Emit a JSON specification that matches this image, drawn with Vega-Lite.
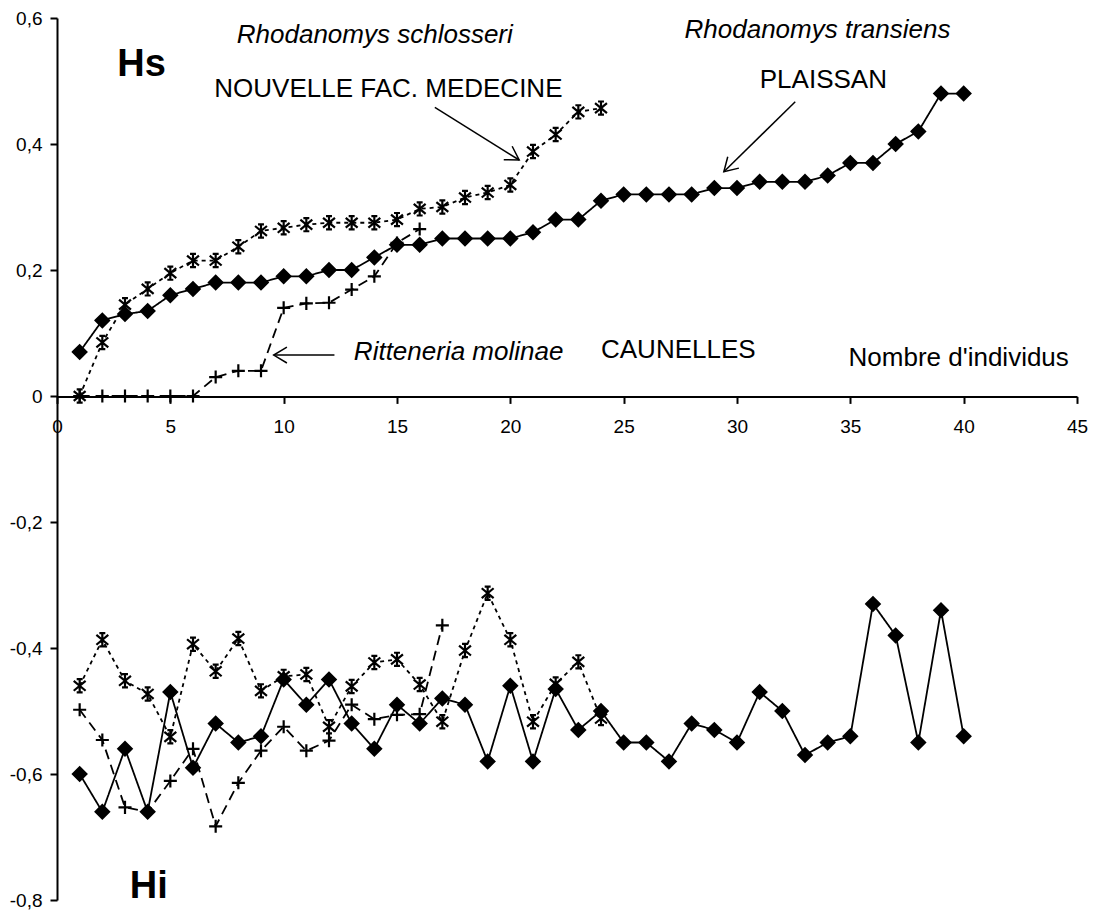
{
  "$schema": "https://vega.github.io/schema/vega-lite/v6.json",
  "width": 1020,
  "height": 882,
  "autosize": "none",
  "padding": {"left": 57, "top": 18, "right": 20, "bottom": 10},
  "background": "white",
  "config": {
    "view": {"stroke": null},
    "font": "Liberation Sans",
    "axis": {"labelFont": "Liberation Sans", "labelColor": "black", "domainColor": "black", "tickColor": "black", "grid": false, "title": null}
  },
  "datasets": {
    "series": [
      {"s":"T","h":"Hs","x":1,"y":0.07},{"s":"T","h":"Hs","x":2,"y":0.12},{"s":"T","h":"Hs","x":3,"y":0.13},{"s":"T","h":"Hs","x":4,"y":0.135},{"s":"T","h":"Hs","x":5,"y":0.16},{"s":"T","h":"Hs","x":6,"y":0.17},{"s":"T","h":"Hs","x":7,"y":0.18},{"s":"T","h":"Hs","x":8,"y":0.18},{"s":"T","h":"Hs","x":9,"y":0.18},{"s":"T","h":"Hs","x":10,"y":0.19},
      {"s":"T","h":"Hs","x":11,"y":0.19},{"s":"T","h":"Hs","x":12,"y":0.2},{"s":"T","h":"Hs","x":13,"y":0.2},{"s":"T","h":"Hs","x":14,"y":0.22},{"s":"T","h":"Hs","x":15,"y":0.24},{"s":"T","h":"Hs","x":16,"y":0.24},{"s":"T","h":"Hs","x":17,"y":0.25},{"s":"T","h":"Hs","x":18,"y":0.25},{"s":"T","h":"Hs","x":19,"y":0.25},{"s":"T","h":"Hs","x":20,"y":0.25},
      {"s":"T","h":"Hs","x":21,"y":0.26},{"s":"T","h":"Hs","x":22,"y":0.28},{"s":"T","h":"Hs","x":23,"y":0.28},{"s":"T","h":"Hs","x":24,"y":0.31},{"s":"T","h":"Hs","x":25,"y":0.32},{"s":"T","h":"Hs","x":26,"y":0.32},{"s":"T","h":"Hs","x":27,"y":0.32},{"s":"T","h":"Hs","x":28,"y":0.32},{"s":"T","h":"Hs","x":29,"y":0.33},{"s":"T","h":"Hs","x":30,"y":0.33},
      {"s":"T","h":"Hs","x":31,"y":0.34},{"s":"T","h":"Hs","x":32,"y":0.34},{"s":"T","h":"Hs","x":33,"y":0.34},{"s":"T","h":"Hs","x":34,"y":0.35},{"s":"T","h":"Hs","x":35,"y":0.37},{"s":"T","h":"Hs","x":36,"y":0.37},{"s":"T","h":"Hs","x":37,"y":0.4},{"s":"T","h":"Hs","x":38,"y":0.42},{"s":"T","h":"Hs","x":39,"y":0.48},{"s":"T","h":"Hs","x":40,"y":0.48},

      {"s":"S","h":"Hs","x":1,"y":0},{"s":"S","h":"Hs","x":2,"y":0.085},{"s":"S","h":"Hs","x":3,"y":0.145},{"s":"S","h":"Hs","x":4,"y":0.17},{"s":"S","h":"Hs","x":5,"y":0.195},{"s":"S","h":"Hs","x":6,"y":0.215},{"s":"S","h":"Hs","x":7,"y":0.215},{"s":"S","h":"Hs","x":8,"y":0.237},{"s":"S","h":"Hs","x":9,"y":0.262},{"s":"S","h":"Hs","x":10,"y":0.267},
      {"s":"S","h":"Hs","x":11,"y":0.272},{"s":"S","h":"Hs","x":12,"y":0.275},{"s":"S","h":"Hs","x":13,"y":0.275},{"s":"S","h":"Hs","x":14,"y":0.275},{"s":"S","h":"Hs","x":15,"y":0.28},{"s":"S","h":"Hs","x":16,"y":0.297},{"s":"S","h":"Hs","x":17,"y":0.3},{"s":"S","h":"Hs","x":18,"y":0.315},{"s":"S","h":"Hs","x":19,"y":0.323},{"s":"S","h":"Hs","x":20,"y":0.335},
      {"s":"S","h":"Hs","x":21,"y":0.388},{"s":"S","h":"Hs","x":22,"y":0.415},{"s":"S","h":"Hs","x":23,"y":0.451},{"s":"S","h":"Hs","x":24,"y":0.457},

      {"s":"M","h":"Hs","x":1,"y":0},{"s":"M","h":"Hs","x":2,"y":0},{"s":"M","h":"Hs","x":3,"y":0},{"s":"M","h":"Hs","x":4,"y":0},{"s":"M","h":"Hs","x":5,"y":0},{"s":"M","h":"Hs","x":6,"y":0},{"s":"M","h":"Hs","x":7,"y":0.03},{"s":"M","h":"Hs","x":8,"y":0.04},{"s":"M","h":"Hs","x":9,"y":0.04},{"s":"M","h":"Hs","x":10,"y":0.14},
      {"s":"M","h":"Hs","x":11,"y":0.147},{"s":"M","h":"Hs","x":12,"y":0.148},{"s":"M","h":"Hs","x":13,"y":0.169},{"s":"M","h":"Hs","x":14,"y":0.19},{"s":"M","h":"Hs","x":15,"y":0.243},{"s":"M","h":"Hs","x":16,"y":0.265},

      {"s":"T","h":"Hi","x":1,"y":-0.6},{"s":"T","h":"Hi","x":2,"y":-0.66},{"s":"T","h":"Hi","x":3,"y":-0.56},{"s":"T","h":"Hi","x":4,"y":-0.66},{"s":"T","h":"Hi","x":5,"y":-0.47},{"s":"T","h":"Hi","x":6,"y":-0.59},{"s":"T","h":"Hi","x":7,"y":-0.52},{"s":"T","h":"Hi","x":8,"y":-0.55},{"s":"T","h":"Hi","x":9,"y":-0.54},{"s":"T","h":"Hi","x":10,"y":-0.45},
      {"s":"T","h":"Hi","x":11,"y":-0.49},{"s":"T","h":"Hi","x":12,"y":-0.45},{"s":"T","h":"Hi","x":13,"y":-0.52},{"s":"T","h":"Hi","x":14,"y":-0.56},{"s":"T","h":"Hi","x":15,"y":-0.49},{"s":"T","h":"Hi","x":16,"y":-0.52},{"s":"T","h":"Hi","x":17,"y":-0.48},{"s":"T","h":"Hi","x":18,"y":-0.49},{"s":"T","h":"Hi","x":19,"y":-0.58},{"s":"T","h":"Hi","x":20,"y":-0.46},
      {"s":"T","h":"Hi","x":21,"y":-0.58},{"s":"T","h":"Hi","x":22,"y":-0.465},{"s":"T","h":"Hi","x":23,"y":-0.53},{"s":"T","h":"Hi","x":24,"y":-0.5},{"s":"T","h":"Hi","x":25,"y":-0.55},{"s":"T","h":"Hi","x":26,"y":-0.55},{"s":"T","h":"Hi","x":27,"y":-0.58},{"s":"T","h":"Hi","x":28,"y":-0.52},{"s":"T","h":"Hi","x":29,"y":-0.53},{"s":"T","h":"Hi","x":30,"y":-0.55},
      {"s":"T","h":"Hi","x":31,"y":-0.47},{"s":"T","h":"Hi","x":32,"y":-0.5},{"s":"T","h":"Hi","x":33,"y":-0.57},{"s":"T","h":"Hi","x":34,"y":-0.55},{"s":"T","h":"Hi","x":35,"y":-0.54},{"s":"T","h":"Hi","x":36,"y":-0.33},{"s":"T","h":"Hi","x":37,"y":-0.38},{"s":"T","h":"Hi","x":38,"y":-0.55},{"s":"T","h":"Hi","x":39,"y":-0.34},{"s":"T","h":"Hi","x":40,"y":-0.54},

      {"s":"S","h":"Hi","x":1,"y":-0.46},{"s":"S","h":"Hi","x":2,"y":-0.387},{"s":"S","h":"Hi","x":3,"y":-0.452},{"s":"S","h":"Hi","x":4,"y":-0.473},{"s":"S","h":"Hi","x":5,"y":-0.541},{"s":"S","h":"Hi","x":6,"y":-0.394},{"s":"S","h":"Hi","x":7,"y":-0.437},{"s":"S","h":"Hi","x":8,"y":-0.385},{"s":"S","h":"Hi","x":9,"y":-0.468},{"s":"S","h":"Hi","x":10,"y":-0.445},
      {"s":"S","h":"Hi","x":11,"y":-0.442},{"s":"S","h":"Hi","x":12,"y":-0.525},{"s":"S","h":"Hi","x":13,"y":-0.461},{"s":"S","h":"Hi","x":14,"y":-0.423},{"s":"S","h":"Hi","x":15,"y":-0.418},{"s":"S","h":"Hi","x":16,"y":-0.458},{"s":"S","h":"Hi","x":17,"y":-0.517},{"s":"S","h":"Hi","x":18,"y":-0.404},{"s":"S","h":"Hi","x":19,"y":-0.313},{"s":"S","h":"Hi","x":20,"y":-0.387},
      {"s":"S","h":"Hi","x":21,"y":-0.517},{"s":"S","h":"Hi","x":22,"y":-0.457},{"s":"S","h":"Hi","x":23,"y":-0.422},{"s":"S","h":"Hi","x":24,"y":-0.512},

      {"s":"M","h":"Hi","x":1,"y":-0.498},{"s":"M","h":"Hi","x":2,"y":-0.546},{"s":"M","h":"Hi","x":3,"y":-0.653},{"s":"M","h":"Hi","x":4,"y":-0.66},{"s":"M","h":"Hi","x":5,"y":-0.611},{"s":"M","h":"Hi","x":6,"y":-0.56},{"s":"M","h":"Hi","x":7,"y":-0.683},{"s":"M","h":"Hi","x":8,"y":-0.614},{"s":"M","h":"Hi","x":9,"y":-0.563},{"s":"M","h":"Hi","x":10,"y":-0.525},
      {"s":"M","h":"Hi","x":11,"y":-0.563},{"s":"M","h":"Hi","x":12,"y":-0.547},{"s":"M","h":"Hi","x":13,"y":-0.49},{"s":"M","h":"Hi","x":14,"y":-0.513},{"s":"M","h":"Hi","x":15,"y":-0.506},{"s":"M","h":"Hi","x":16,"y":-0.505},{"s":"M","h":"Hi","x":17,"y":-0.364}
    ],
    "italic": [
      {"x":14.02,"y":0.561,"t":"Rhodanomys schlosseri"},
      {"x":33.55,"y":0.569,"t":"Rhodanomys transiens"},
      {"x":17.72,"y":0.0567,"t":"Ritteneria molinae"}
    ],
    "plain": [
      {"x":14.62,"y":0.475,"t":"NOUVELLE FAC. MEDECINE"},
      {"x":33.81,"y":0.4895,"t":"PLAISSAN"},
      {"x":27.41,"y":0.061,"t":"CAUNELLES"},
      {"x":39.78,"y":0.0476,"t":"Nombre d'individus"}
    ],
    "bold": [
      {"x":3.73,"y":0.508,"t":"Hs"},
      {"x":4.05,"y":-0.7966,"t":"Hi"}
    ],
    "arrows": [
      {"x":16.67,"y":0.458,"x2":20.39,"y2":0.3746,"a":122},
      {"x":32.57,"y":0.467,"x2":29.42,"y2":0.356,"a":225.6},
      {"x":12.24,"y":0.065,"x2":9.56,"y2":0.065,"a":270}
    ]
  },
  "layer": [
    {
      "data": {"name": "series"},
      "mark": {"type": "line", "color": "black", "strokeWidth": 1.8},
      "encoding": {
        "x": {"field": "x", "type": "quantitative", "scale": {"domain": [0, 45], "nice": false, "zero": false},
              "axis": {"orient": "bottom", "offset": -503.6, "values": [0,5,10,15,20,25,30,35,40,45], "domainWidth": 2, "tickWidth": 2, "tickSize": 7, "labelFontSize": 19, "labelPadding": 14, "labelFlush": false, "labelOverlap": false}},
        "y": {"field": "y", "type": "quantitative", "scale": {"domain": [-0.8, 0.6], "nice": false, "zero": false},
              "axis": {"orient": "left", "values": [-0.8,-0.6,-0.4,-0.2,0,0.2,0.4,0.6], "labelExpr": "replace(toString(datum.value), '.', ',')", "domainWidth": 2, "tickWidth": 2, "tickSize": 7, "labelFontSize": 19, "labelPadding": 8, "labelFlush": false, "labelOverlap": false}},
        "detail": [{"field": "s"}, {"field": "h"}],
        "strokeDash": {"field": "s", "type": "nominal", "scale": {"domain": ["T","S","M"], "range": [[1,0],[4,4],[10,6]]}, "legend": null},
        "order": {"field": "x", "type": "quantitative"}
      }
    },
    {
      "data": {"name": "series"},
      "mark": {"type": "point", "filled": true, "fill": "black", "stroke": "black", "strokeWidth": 2.2, "opacity": 1},
      "encoding": {
        "x": {"field": "x", "type": "quantitative"},
        "y": {"field": "y", "type": "quantitative"},
        "shape": {"field": "s", "type": "nominal", "scale": {"domain": ["T","S","M"], "range": ["diamond", "M0,-1L0,1M-0.9,-0.75L0.9,0.75M-0.9,0.75L0.9,-0.75M-0.45,-1L0.45,-1M-0.45,1L0.45,1", "M-1,0L1,0M0,-1L0,1"]}, "legend": null},
        "size": {"field": "s", "type": "nominal", "scale": {"domain": ["T","S","M"], "range": [180, 170, 160]}, "legend": null}
      }
    },
    {
      "data": {"name": "arrows"},
      "mark": {"type": "rule", "color": "black", "strokeWidth": 1.5},
      "encoding": {
        "x": {"field": "x", "type": "quantitative"},
        "y": {"field": "y", "type": "quantitative"},
        "x2": {"field": "x2"},
        "y2": {"field": "y2"}
      }
    },
    {
      "data": {"name": "arrows"},
      "mark": {"type": "point", "shape": "M-0.6,1L0,0L0.6,1", "filled": false, "stroke": "black", "strokeWidth": 1.5, "size": 700, "opacity": 1},
      "encoding": {
        "x": {"field": "x2", "type": "quantitative"},
        "y": {"field": "y2", "type": "quantitative"},
        "angle": {"field": "a", "type": "quantitative", "scale": null}
      }
    },
    {
      "data": {"name": "italic"},
      "mark": {"type": "text", "fontStyle": "italic", "fontSize": 26, "align": "center", "baseline": "alphabetic", "color": "black"},
      "encoding": {
        "x": {"field": "x", "type": "quantitative"},
        "y": {"field": "y", "type": "quantitative"},
        "text": {"field": "t"}
      }
    },
    {
      "data": {"name": "plain"},
      "mark": {"type": "text", "fontSize": 26, "align": "center", "baseline": "alphabetic", "color": "black"},
      "encoding": {
        "x": {"field": "x", "type": "quantitative"},
        "y": {"field": "y", "type": "quantitative"},
        "text": {"field": "t"}
      }
    },
    {
      "data": {"name": "bold"},
      "mark": {"type": "text", "fontWeight": "bold", "fontSize": 38, "align": "center", "baseline": "alphabetic", "color": "black"},
      "encoding": {
        "x": {"field": "x", "type": "quantitative"},
        "y": {"field": "y", "type": "quantitative"},
        "text": {"field": "t"}
      }
    }
  ]
}
